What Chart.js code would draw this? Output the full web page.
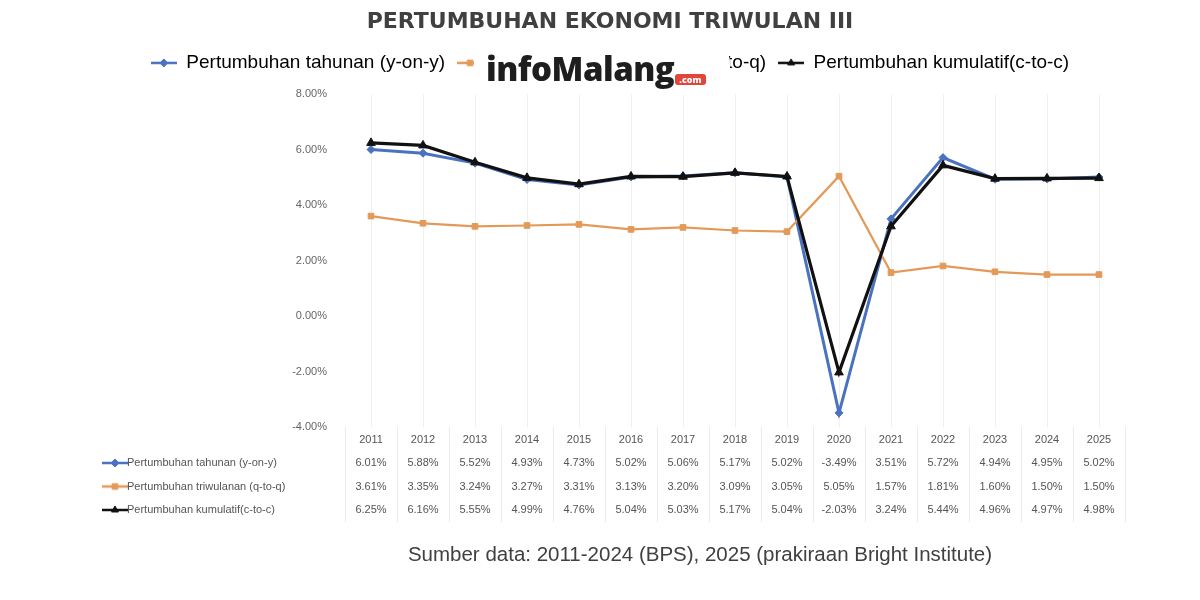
<!DOCTYPE html>
<html>
<head>
<meta charset="utf-8">
<script src="https://cdn.jsdelivr.net/npm/chart.js@4.4.1/dist/chart.umd.min.js"></script>
<style>
  html, body { margin: 0; background: #fff; }
  #wrap { position: relative; width: 1200px; height: 600px; }
  #logo {
    position: absolute; left: 474px; top: 46px; width: 256px; height: 48px;
    background: #fff; border-radius: 16px; box-sizing: border-box; padding-left: 12px;
    font-family: 'Open Sans', sans-serif; font-weight: 800; font-size: 33px;
    line-height: 46px; color: #1e1e1e; letter-spacing: -0.5px; white-space: nowrap;
  }
  #logo .com {
    display: inline-block; background: #e0463a; color: #fff; font-size: 9px;
    line-height: 11px; padding: 0 4px; border-radius: 3px; letter-spacing: 0;
    vertical-align: -2px; margin-left: 1px;
  }
</style>
</head>
<body>
<div id="wrap">
  <canvas id="chart" width="1200" height="600"></canvas>
  <div id="logo">infoMalang<span class="com">.com</span></div>
</div>
<script>
const years = ['2011', '2012', '2013', '2014', '2015', '2016', '2017', '2018', '2019', '2020', '2021', '2022', '2023', '2024', '2025']
const yoy = [6.01, 5.88, 5.52, 4.93, 4.73, 5.02, 5.06, 5.17, 5.02, -3.49, 3.51, 5.72, 4.94, 4.95, 5.02]
const qtq = [3.61, 3.35, 3.24, 3.27, 3.31, 3.13, 3.20, 3.09, 3.05, 5.05, 1.57, 1.81, 1.60, 1.50, 1.50]
const ctc = [6.25, 6.16, 5.55, 4.99, 4.76, 5.04, 5.03, 5.17, 5.04, -2.03, 3.24, 5.44, 4.96, 4.97, 4.98]
const seriesNames = ['Pertumbuhan tahunan (y-on-y)', 'Pertumbuhan triwulanan (q-to-q)', 'Pertumbuhan kumulatif(c-to-c)']
const titleText = 'PERTUMBUHAN EKONOMI TRIWULAN III'
const sourceText = 'Sumber data: 2011-2024 (BPS), 2025 (prakiraan Bright Institute)'

const colors = ['#4a72c0', '#e39a58', '#111111']
const markers = ['rectRot', 'rect', 'triangle']
const lineWidths = [3, 2.2, 3.2]

Chart.defaults.font.family = "'Liberation Sans', sans-serif"

// small line + marker images, for the legend and the table keys
const makeKey = (i) => {
  const c = document.createElement('canvas')
  c.width = 26
  c.height = 12
  const ctx = c.getContext('2d')
  ctx.strokeStyle = colors[i]
  ctx.fillStyle = colors[i]
  ctx.lineWidth = 2.5
  ctx.beginPath()
  ctx.moveTo(0, 6)
  ctx.lineTo(26, 6)
  ctx.stroke()
  ctx.lineWidth = 1
  Chart.helpers.drawPoint(ctx, { pointStyle: markers[i], radius: 4, rotation: 0, borderWidth: 1 }, 13, 6)
  return c
}
const keys = [0, 1, 2].map(makeKey)

// leave some room under the legend, like the original
const legendGap = {
  id: 'legendGap',
  afterInit(chart) {
    const fit = chart.legend.fit
    chart.legend.fit = function () {
      fit.call(this)
      this.height += 12
    }
  }
}

const tablePlugin = {
  id: 'dataTable',
  afterDraw(chart) {
    const { ctx, chartArea, scales: { x } } = chart
    const top = chartArea.bottom
    const rows = [yoy, qtq, ctc]
    ctx.save()
    ctx.strokeStyle = '#ececec'
    ctx.lineWidth = 1
    for (let i = 0; i <= years.length; i++) {
      const px = Math.round(x.getPixelForValue(i - 0.5)) + 0.5
      ctx.beginPath()
      ctx.moveTo(px, top)
      ctx.lineTo(px, top + 95)
      ctx.stroke()
    }
    ctx.font = "11px 'Liberation Sans', sans-serif"
    ctx.fillStyle = '#555'
    ctx.textBaseline = 'middle'
    rows.forEach((row, r) => {
      const py = top + 36 + r * 23.5
      ctx.drawImage(keys[r], 102, py - 6)
      ctx.textAlign = 'left'
      ctx.fillText(seriesNames[r], 127, py)
      ctx.textAlign = 'center'
      row.forEach((v, i) => ctx.fillText(v.toFixed(2) + '%', x.getPixelForValue(i), py))
    })
    ctx.font = "20.5px 'Liberation Sans', sans-serif"
    ctx.fillStyle = '#404040'
    ctx.fillText(sourceText, 700, 555)
    ctx.restore()
  }
}

new Chart(document.getElementById('chart'), {
  type: 'line',
  data: {
    labels: years,
    datasets: [yoy, qtq, ctc].map((data, i) => ({
      label: seriesNames[i],
      data,
      borderColor: colors[i],
      backgroundColor: colors[i],
      borderWidth: lineWidths[i],
      pointStyle: markers[i],
      pointRadius: i === 2 ? 5 : 4,
      pointBorderWidth: 1,
      order: [2, 1, 0][i]
    }))
  },
  options: {
    responsive: false,
    animation: false,
    layout: { padding: { top: 9, left: 20, right: 0, bottom: 148 } },
    plugins: {
      title: {
        display: true,
        text: titleText,
        color: '#404040',
        font: { family: "'DejaVu Sans', sans-serif", size: 22, weight: 'bold' },
        padding: { top: 0, bottom: 6 }
      },
      legend: {
        labels: {
          usePointStyle: true,
          pointStyleWidth: 26,
          boxHeight: 12,
          padding: 12,
          color: '#404040',
          font: { size: 19 },
          generateLabels: () => seriesNames.map((text, i) => ({
            text,
            pointStyle: keys[i],
            fillStyle: colors[i],
            strokeStyle: colors[i],
            lineWidth: 0,
            datasetIndex: i,
            hidden: false
          }))
        }
      },
      tooltip: { enabled: false }
    },
    scales: {
      x: {
        offset: true,
        grid: { color: '#f0f0f0', drawTicks: false },
        border: { display: false },
        ticks: { color: '#555', font: { size: 11 }, padding: 6 },
        afterFit: (scale) => { scale.height = 25 }
      },
      y: {
        min: -4,
        max: 8,
        grid: { display: false },
        border: { display: false },
        ticks: {
          stepSize: 2,
          color: '#666',
          font: { size: 11 },
          padding: 10,
          callback: (v) => v.toFixed(2) + '%'
        },
        afterFit: (scale) => { scale.width = 325 }
      },
      yRight: {
        position: 'right',
        grid: { display: false },
        border: { display: false },
        ticks: { display: false },
        afterFit: (scale) => { scale.width = 75 }
      }
    }
  },
  plugins: [legendGap, tablePlugin]
})
</script>
</body>
</html>
